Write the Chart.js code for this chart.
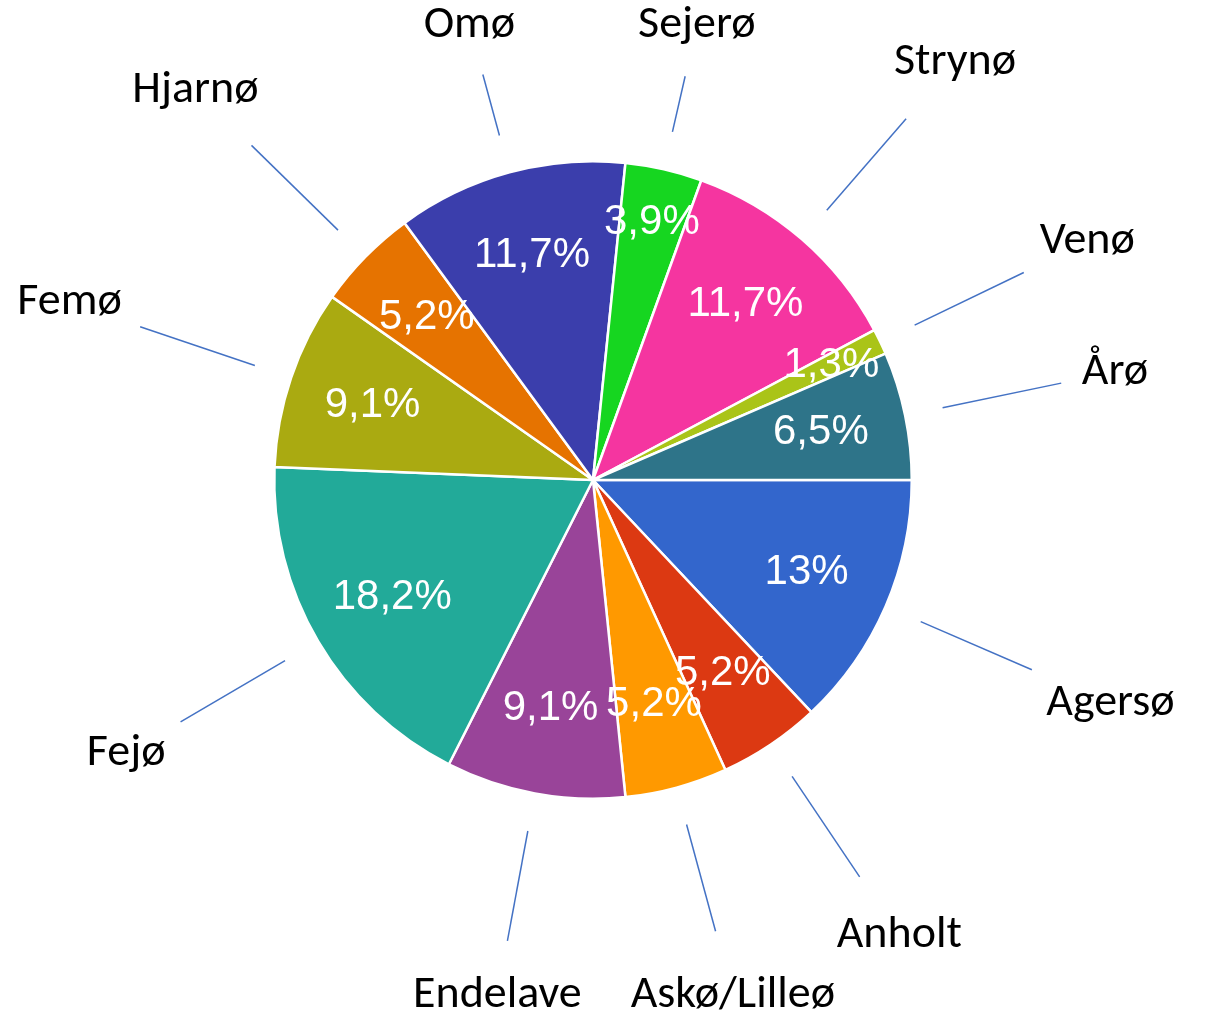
<!DOCTYPE html>
<html>
<head>
<meta charset="utf-8">
<script src="https://cdn.jsdelivr.net/npm/chart.js@4"></script>
<style>
  body { margin: 0; background: #fff; }
</style>
</head>
<body>
<canvas id="islandsPie" width="1230" height="1025"></canvas>
<script>
const islands = ['Agersø', 'Anholt', 'Askø/Lilleø', 'Endelave', 'Fejø', 'Femø',
                 'Hjarnø', 'Omø', 'Sejerø', 'Strynø', 'Venø', 'Årø'];
const counts = [10, 4, 4, 7, 14, 7, 4, 9, 3, 9, 1, 5];
const sliceColors = ['#3366cc', '#dc3912', '#ff9900', '#994499', '#22aa99', '#aaaa11',
                     '#e67300', '#3b3eac', '#16d620', '#f535a0', '#aac418', '#2e7489'];

const total = counts.reduce((a, b) => a + b, 0);

function pctLabel(v) {
    let s = (v / total * 100).toFixed(1).replace('.', ',');
    if (s.endsWith(',0')) s = s.slice(0, -2);
    return s + '%';
}

// draws the % inside each slice and the island name with a leader line outside
const sliceLabels = {
    id: 'sliceLabels',
    afterDatasetsDraw(chart) {
        const ctx = chart.ctx;
        const arcs = chart.getDatasetMeta(0).data;
        const topLimit = 25, bottomLimit = 995;
        ctx.save();
        arcs.forEach((arc, i) => {
            const mid = (arc.startAngle + arc.endAngle) / 2;
            const dx = Math.cos(mid), dy = Math.sin(mid);
            const r = arc.outerRadius;

            // percentage inside, thin slices get it pushed outwards
            const inner = counts[i] / total < 0.05 ? 0.83 : 0.73;
            ctx.font = '42px "Liberation Sans", Arial, sans-serif';
            ctx.fillStyle = '#ffffff';
            ctx.textAlign = 'center';
            ctx.textBaseline = 'middle';
            ctx.fillText(pctLabel(counts[i]), arc.x + dx * r * inner, arc.y + dy * r * inner);

            // island name size, needed to fit the leader line
            ctx.font = '46px Carlito, Lato, "Open Sans", sans-serif';
            const w = ctx.measureText(islands[i]).width;
            const off = 18 + Math.abs(dx) * w / 2 + Math.abs(dy) * 22;

            let f = 1.5;
            if (dy < 0) f = Math.min(f, (arc.y - topLimit + dy * off) / (-dy * r));
            if (dy > 0) f = Math.min(f, (bottomLimit - arc.y - dy * off) / (dy * r));
            f = Math.max(f, 1.25);

            const x1 = arc.x + dx * r * 1.12, y1 = arc.y + dy * r * 1.12;
            const x2 = arc.x + dx * r * f, y2 = arc.y + dy * r * f;
            ctx.strokeStyle = '#4472c4';
            ctx.lineWidth = 1.5;
            ctx.beginPath();
            ctx.moveTo(x1, y1);
            ctx.lineTo(x2, y2);
            ctx.stroke();

            ctx.fillStyle = '#000000';
            ctx.fillText(islands[i], x2 + dx * off, y2 + dy * off);
        });
        ctx.restore();
    }
};

new Chart(document.getElementById('islandsPie'), {
    type: 'pie',
    data: {
        labels: islands,
        datasets: [{
            data: counts,
            backgroundColor: sliceColors,
            borderColor: '#ffffff',
            borderWidth: 2.5,
            hoverOffset: 0
        }]
    },
    options: {
        responsive: false,
        animation: false,
        rotation: 90,
        layout: {
            padding: { left: 273, right: 317, top: 160, bottom: 225 }
        },
        plugins: {
            legend: { display: false },
            tooltip: { enabled: false }
        }
    },
    plugins: [sliceLabels]
});
</script>
</body>
</html>
